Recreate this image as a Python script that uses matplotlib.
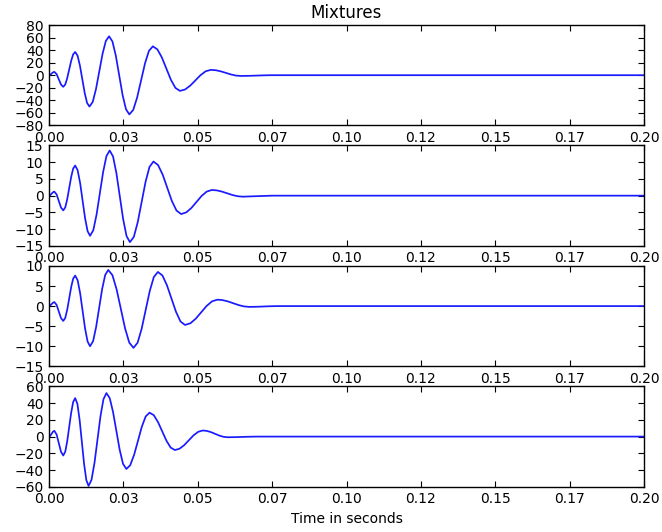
import matplotlib
matplotlib.use('Agg')
import matplotlib.pyplot as plt

# Four mixed recordings, sampled by hand along each trace (time in s)
t1 = [0, 0.00045, 0.0009, 0.00135, 0.0018,
      0.00255, 0.0033, 0.00405, 0.0048,
      0.00547, 0.00613, 0.0068, 0.00747, 0.00813, 0.0088,
      0.0096, 0.0104, 0.0112, 0.012, 0.0128, 0.0136,
      0.0147, 0.0158, 0.0169, 0.018, 0.0191, 0.0202,
      0.02133, 0.02247, 0.0236, 0.02473, 0.02587, 0.027,
      0.02832, 0.02963, 0.03095, 0.03227, 0.03358, 0.0349,
      0.03642, 0.03793, 0.03945, 0.04097, 0.04248, 0.044,
      0.04573, 0.04747, 0.0492, 0.05093, 0.05267, 0.0544,
      0.05608, 0.05777, 0.05945, 0.06113, 0.06282, 0.0645,
      0.0671, 0.0698, 0.0724, 0.075, 0.2]
mix1 = [0, 0.8, 2.7, 4.5, 5.3,
        1.8, -6.6, -15.0, -18.5,
        -14.8, -4.6, 9.3, 23.1, 33.3, 37,
        31.2, 15.3, -6.5, -28.3, -44.2, -50,
        -42.5, -22, 6, 34, 54.5, 62,
        53.7, 30.9, -0.3, -31.4, -54.2, -62.5,
        -55.2, -35.4, -8.3, 18.9, 38.7, 46,
        41.2, 28.3, 10.5, -7.3, -20.2, -25,
        -22.8, -16.6, -8.3, 0.1, 6.3, 8.5,
        7.9, 6.1, 3.7, 1.2, -0.6, -1.2,
        -1.0, -0.6, -0.2, 0, 0]

t2 = [0, 0.00045, 0.0009, 0.00135, 0.0018,
      0.00255, 0.0033, 0.00405, 0.0048,
      0.00547, 0.00613, 0.0068, 0.00747, 0.00813, 0.0088,
      0.00963, 0.01047, 0.0113, 0.01213, 0.01297, 0.0138,
      0.0149, 0.016, 0.0171, 0.0182, 0.0193, 0.0204,
      0.02153, 0.02267, 0.0238, 0.02493, 0.02607, 0.0272,
      0.02852, 0.02983, 0.03115, 0.03247, 0.03378, 0.0351,
      0.03665, 0.0382, 0.03975, 0.0413, 0.04285, 0.0444,
      0.04612, 0.04783, 0.04955, 0.05127, 0.05298, 0.0547,
      0.05643, 0.05817, 0.0599, 0.06163, 0.06337, 0.0651,
      0.0684, 0.0717, 0.075, 0.2]
mix2 = [0, 0.18, 0.6, 1.02, 1.2,
        0.38, -1.6, -3.58, -4.4,
        -3.5, -1.05, 2.3, 5.65, 8.1, 9.0,
        7.6, 3.75, -1.5, -6.75, -10.6, -12,
        -10.3, -5.6, 0.75, 7.1, 11.8, 13.5,
        11.7, 6.65, -0.2, -7.05, -12.1, -13.9,
        -12.3, -7.9, -1.85, 4.2, 8.6, 10.2,
        9.15, 6.3, 2.35, -1.6, -4.45, -5.5,
        -5.0, -3.7, -1.9, -0.1, 1.2, 1.7,
        1.57, 1.2, 0.7, 0.2, -0.17, -0.3,
        -0.2, -0.1, 0, 0]

t3 = [0, 0.00045, 0.0009, 0.00135, 0.0018,
      0.00255, 0.0033, 0.00405, 0.0048,
      0.00547, 0.00613, 0.0068, 0.00747, 0.00813, 0.0088,
      0.00963, 0.01047, 0.0113, 0.01213, 0.01297, 0.0138,
      0.01482, 0.01583, 0.01685, 0.01787, 0.01888, 0.0199,
      0.02132, 0.02273, 0.02415, 0.02557, 0.02698, 0.0284,
      0.02977, 0.03113, 0.0325, 0.03387, 0.03523, 0.0366,
      0.03812, 0.03963, 0.04115, 0.04267, 0.04418, 0.0457,
      0.04752, 0.04933, 0.05115, 0.05297, 0.05478, 0.0566,
      0.05838, 0.06017, 0.06195, 0.06373, 0.06552, 0.0673,
      0.0705, 0.0738, 0.077, 0.2]
mix3 = [0, 0.15, 0.5, 0.85, 1.0,
        0.31, -1.35, -3.01, -3.7,
        -2.94, -0.88, 1.95, 4.78, 6.84, 7.6,
        6.42, 3.2, -1.2, -5.6, -8.82, -10,
        -8.73, -5.25, -0.5, 4.25, 7.73, 9.0,
        7.7, 4.15, -0.7, -5.55, -9.1, -10.4,
        -9.13, -5.68, -0.95, 3.78, 7.23, 8.5,
        7.62, 5.2, 1.9, -1.4, -3.82, -4.7,
        -4.28, -3.13, -1.55, 0.03, 1.18, 1.6,
        1.48, 1.15, 0.7, 0.25, -0.08, -0.2,
        -0.15, -0.05, 0, 0]

t4 = [0, 0.00045, 0.0009, 0.00135, 0.0018,
      0.00255, 0.0033, 0.00405, 0.0048,
      0.00547, 0.00613, 0.0068, 0.00747, 0.00813, 0.0088,
      0.00955, 0.0103, 0.01105, 0.0118, 0.01255, 0.0133,
      0.0143, 0.0153, 0.0163, 0.0173, 0.0183, 0.0193,
      0.02042, 0.02153, 0.02265, 0.02377, 0.02488, 0.026,
      0.0273, 0.0286, 0.0299, 0.0312, 0.0325, 0.0338,
      0.03522, 0.03663, 0.03805, 0.03947, 0.04088, 0.0423,
      0.04387, 0.04543, 0.047, 0.04857, 0.05013, 0.0517,
      0.05308, 0.05447, 0.05585, 0.05723, 0.05862, 0.06,
      0.0633, 0.0667, 0.07, 0.2]
mix4 = [0, 1.0, 3.45, 5.9, 6.9,
        2.6, -7.85, -18.3, -22.6,
        -18.0, -5.45, 11.7, 28.85, 41.4, 46,
        39.0, 19.75, -6.5, -32.75, -52.0, -59,
        -51.6, -31.25, -3.5, 24.25, 44.6, 52,
        45.9, 29.3, 6.65, -16.0, -32.6, -38.7,
        -34.2, -21.9, -5.05, 11.8, 24.1, 28.6,
        25.6, 17.4, 6.25, -4.9, -13.1, -16.1,
        -14.5, -10.25, -4.4, 1.45, 5.7, 7.3,
        6.76, 5.28, 3.25, 1.23, -0.26, -0.8,
        -0.6, -0.2, 0, 0]

# axis ranges / ticks per panel
ylims = [(-80, 80), (-15, 15), (-15, 10), (-60, 60)]
ysteps = [20, 5, 5, 20]
xticks = [0, 0.025, 0.05, 0.075, 0.1, 0.125, 0.15, 0.175, 0.2]
xticklabels = ['0.00', '0.03', '0.05', '0.07', '0.10', '0.12', '0.15', '0.17', '0.20']

plt.rcParams['font.family'] = 'DejaVu Sans'
plt.rcParams['font.size'] = 10

fig, axes = plt.subplots(4, 1, figsize=(6.62, 5.32), dpi=100)
fig.subplots_adjust(left=0.074, right=0.973, top=0.953, bottom=0.085, hspace=0.2)

series = [(t1, mix1), (t2, mix2), (t3, mix3), (t4, mix4)]
for ax, (t, y), (lo, hi), step in zip(axes, series, ylims, ysteps):
    ax.plot(t, y, color='#1a1aff', lw=1.25, solid_joinstyle='round')
    ax.set_xlim(0, 0.2)
    ax.set_ylim(lo, hi)
    ax.set_yticks(list(range(lo, hi + 1, step)))
    ax.set_xticks(xticks)
    ax.set_xticklabels(xticklabels)
    ax.tick_params(direction='in', top=True, right=True, length=4,
                   width=0.8, labelsize=10, pad=4)
    for sp in ax.spines.values():
        sp.set_linewidth(1.0)
        sp.set_color('black')

axes[0].set_title('Mixtures', fontsize=12, pad=5)
axes[-1].set_xlabel('Time in seconds', fontsize=10, labelpad=4)

fig.savefig('out.png', dpi=100, facecolor='white')
